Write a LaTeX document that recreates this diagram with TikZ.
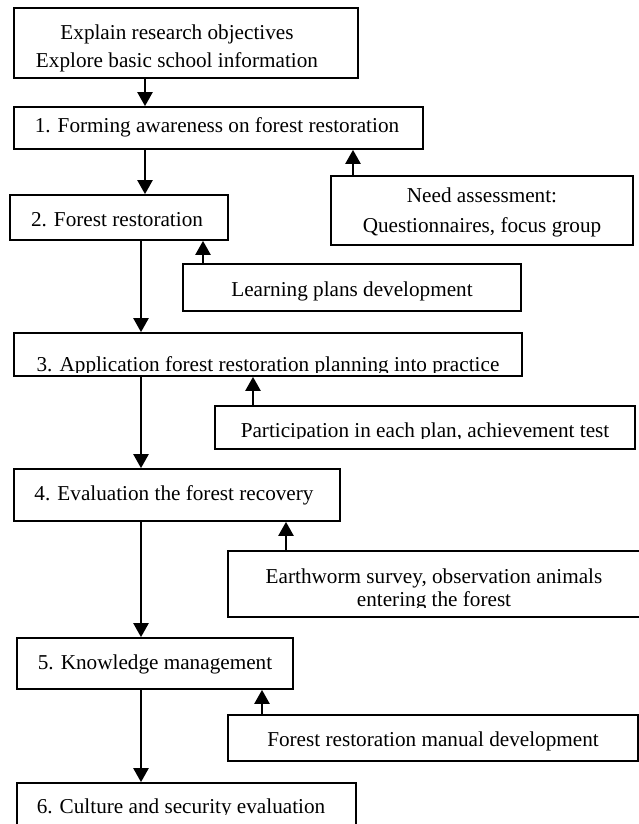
\documentclass[tikz,border=0pt]{standalone}
\usepackage{fontspec}
\setmainfont{Liberation Serif}
\usetikzlibrary{arrows.meta}
\tikzset{
  box/.style={draw=black, line width=1.7pt, inner sep=0pt, fill=none},
  lbl/.style={inner sep=0pt, anchor=base, font=\fontsize{21.2}{27}\selectfont},
  arr/.style={line width=2.3pt, -{Triangle[length=14pt, width=15pt]}}
}
\newcommand{\mybox}[5]{%
  \node[box, minimum width={(#4-#2)*1pt}, minimum height={(#5-#3)*1pt}] (#1) at ({(#2+#4)/2},{(#3+#5)/2}) {};}
\begin{document}
\begin{tikzpicture}[x=1pt, y=-1pt]
\useasboundingbox (0,0) rectangle (639,824);
% boxes
\mybox{b0}{14}{8}{358}{78}
\mybox{b1}{14}{107}{423}{149}
\mybox{need}{331}{176}{633}{245}
\mybox{b2}{10}{195}{228}{240}
\mybox{learn}{183}{264}{521}{311}
\mybox{b3}{14}{333}{522}{376}
\mybox{part}{215}{406}{635}{449}
\mybox{b4}{14}{469}{340}{521}
\mybox{earth}{228}{551}{641}{617}
\mybox{b5}{17}{638}{293}{689}
\mybox{man}{228}{715}{638}{761}
\mybox{b6}{17}{783}{356}{832}
% texts
\node[lbl] (t0a) at (177,40) {Explain research objectives};
\node[lbl] (t0b) at (177,68) {Explore basic school information};
\node[lbl] (t1) at (217,132) {1. Forming awareness on forest restoration};
\node[lbl] (tna) at (482,202) {Need assessment:};
\node[lbl] (tnb) at (482,232) {Questionnaires, focus group};
\node[lbl] (t2) at (117,226) {2. Forest restoration};
\node[lbl] (tl) at (352,296) {Learning plans development};
\begin{scope}
\clip (14,333) rectangle (522,372);
\node[lbl] (t3) at (268,371) {3. Application forest restoration planning into practice};
\end{scope}
\begin{scope}
\clip (215,406) rectangle (635,438.5);
\node[lbl] (tp) at (425,437) {Participation in each plan, achievement test};
\end{scope}
\node[lbl] (t4) at (174,500) {4. Evaluation the forest recovery};
\begin{scope}
\clip (228,551) rectangle (641,607);
\node[lbl] (tea) at (434,583) {Earthworm survey, observation animals};
\node[lbl] (teb) at (434,606) {entering the forest};
\end{scope}
\node[lbl] (t5) at (155,669) {5. Knowledge management};
\node[lbl] (tm) at (433,746) {Forest restoration manual development};
\begin{scope}
\clip (17,783) rectangle (356,814.5);
\node[lbl] (t6) at (181,813) {6. Culture and security evaluation};
\end{scope}
% main flow arrows
\draw[arr] (145,0 |- b0.south) -- (145,0 |- b1.north);
\draw[arr] (145,0 |- b1.south) -- (145,0 |- b2.north);
\draw[arr] (141,0 |- b2.south) -- (141,0 |- b3.north);
\draw[arr] (141,0 |- b3.south) -- (141,0 |- b4.north);
\draw[arr] (141,0 |- b4.south) -- (141,0 |- b5.north);
\draw[arr] (141,0 |- b5.south) -- (141,0 |- b6.north);
% side arrows
\draw[arr] (353,0 |- need.north) -- (353,0 |- b1.south);
\draw[arr] (203,0 |- learn.north) -- (203,0 |- b2.south);
\draw[arr] (253,0 |- part.north) -- (253,0 |- b3.south);
\draw[arr] (286,0 |- earth.north) -- (286,0 |- b4.south);
\draw[arr] (262,0 |- man.north) -- (262,0 |- b5.south);
\end{tikzpicture}
\end{document}
